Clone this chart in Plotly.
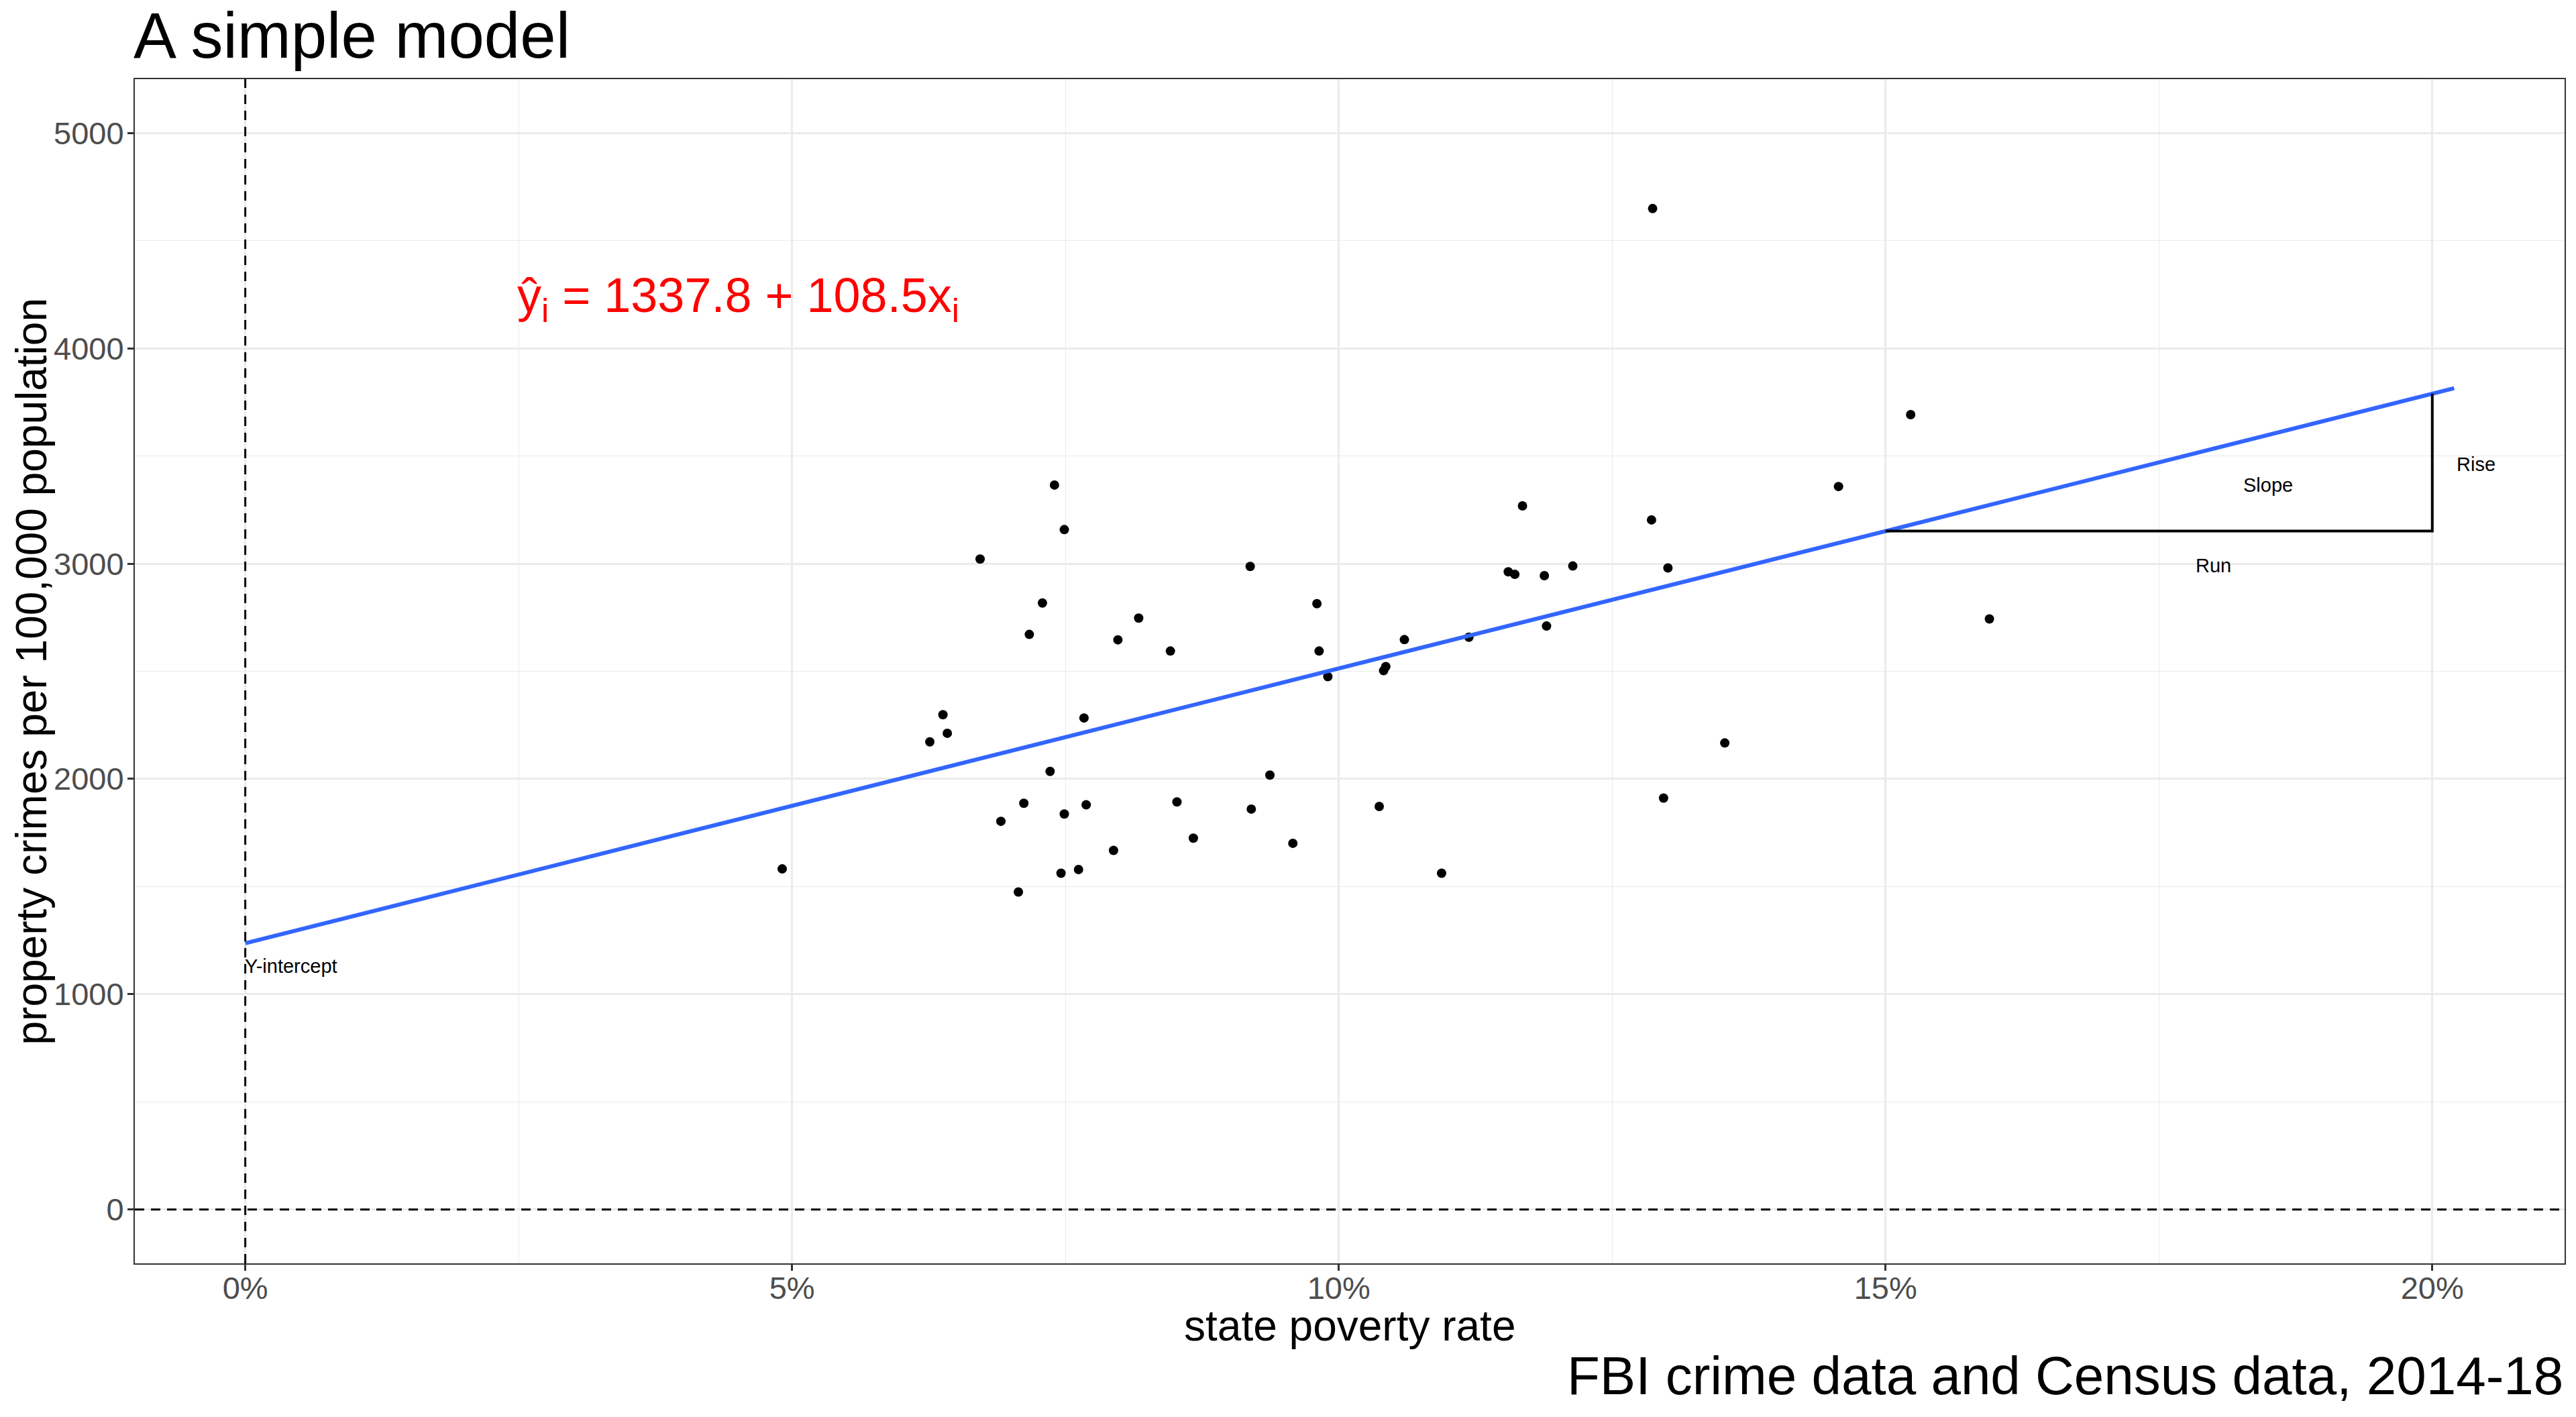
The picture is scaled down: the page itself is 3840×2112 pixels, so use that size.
import numpy as np
import plotly.graph_objects as go

# state poverty rate (%) and property crimes per 100,000
poverty = [7.40, 7.49, 6.72, 9.19, 7.29, 9.80, 8.17, 7.17, 7.98, 8.46,
           9.82, 10.60, 10.43, 10.41, 9.90, 6.38, 6.42, 6.26, 7.67, 7.36,
           9.37, 7.12, 7.69, 7.49, 6.91, 8.52, 9.20, 10.37, 8.67, 9.58,
           7.94, 4.91, 7.46, 7.62, 7.07, 14.57, 11.68, 12.86, 12.14, 11.55,
           11.61, 11.88, 13.01, 15.95, 11.19, 11.90, 13.53, 12.97, 10.94, 12.87,
           15.23]
crime = [3365, 3158, 3021, 2987, 2817, 2814, 2747, 2671, 2646, 2594,
         2594, 2647, 2522, 2503, 2475, 2298, 2212, 2172, 2283, 2035,
         2018, 1887, 1880, 1837, 1803, 1893, 1860, 1872, 1725, 1701,
         1668, 1582, 1562, 1579, 1475, 3358, 3268, 3203, 2989, 2962,
         2950, 2944, 2980, 2743, 2658, 2710, 2167, 1911, 1562, 4649,
         3692]

# fitted line as drawn in the chart
fit_intercept = 1237
fit_slope = 127.6
fit_x = [0, 20.2]
run_x = [15, 20]  # rise/run triangle

x_ticks = [0, 5, 10, 15, 20]
x_labels = [f"{v}%" for v in x_ticks]
y_ticks = [0, 1000, 2000, 3000, 4000, 5000]

title = "A simple model"
x_title = "state poverty rate"
y_title = "property crimes per 100,000 population"
caption = "FBI crime data and Census data, 2014-18"
equation = "ŷ<sub>i</sub> = 1337.8 + 108.5x<sub>i</sub>"

FONT = "Liberation Sans, Arial, sans-serif"


def fit(x):
    return fit_intercept + fit_slope * np.asarray(x, dtype=float)


fig = go.Figure()

dashed = dict(color="black", width=3, dash="14px,10px")
fig.add_hline(y=0, line=dashed)
fig.add_vline(x=0, line=dashed)

fig.add_trace(go.Scatter(
    x=poverty, y=crime, mode="markers",
    marker=dict(color="black", size=14, line=dict(width=0)),
    showlegend=False, hoverinfo="skip",
))

fig.add_trace(go.Scatter(
    x=fit_x, y=fit(fit_x), mode="lines",
    line=dict(color="#3366FF", width=6),
    showlegend=False, hoverinfo="skip",
))

tri_y = fit(run_x)
fig.add_trace(go.Scatter(
    x=[run_x[0], run_x[1], run_x[1]],
    y=[tri_y[0], tri_y[0], tri_y[1]],
    mode="lines", line=dict(color="black", width=4),
    showlegend=False, hoverinfo="skip",
))

small = dict(family=FONT, size=29, color="black")
fig.add_annotation(x=0, y=1130, text="Y-intercept", showarrow=False,
                   xanchor="left", yanchor="middle", xshift=-3, font=small)
fig.add_annotation(x=18.5, y=3365, text="Slope", showarrow=False, font=small)
fig.add_annotation(x=18.0, y=2990, text="Run", showarrow=False, font=small)
fig.add_annotation(x=20.4, y=3460, text="Rise", showarrow=False, font=small)

fig.add_annotation(x=2.5, y=4228, text=equation, showarrow=False,
                   xanchor="left", yanchor="middle", xshift=-4,
                   font=dict(family=FONT, size=72, color="red"))

# title, axis titles, caption
fig.add_annotation(xref="paper", yref="paper", x=0, y=1, xanchor="left", yanchor="bottom",
                   yshift=10, xshift=-4, text=title, showarrow=False,
                   font=dict(family=FONT, size=96, color="black"))
fig.add_annotation(xref="paper", yref="paper", x=0.5, y=0, xanchor="center", yanchor="top",
                   yshift=-55, text=x_title, showarrow=False,
                   font=dict(family=FONT, size=64, color="black"))
fig.add_annotation(xref="paper", yref="paper", x=0, y=0.5, xanchor="center", yanchor="middle",
                   xshift=-155, textangle=-90, text=y_title, showarrow=False,
                   font=dict(family=FONT, size=64, color="black"))
fig.add_annotation(xref="paper", yref="paper", x=1, y=0, xanchor="right", yanchor="bottom",
                   yshift=-214, text=caption, showarrow=False,
                   font=dict(family=FONT, size=80, color="black"))

axis_common = dict(
    showline=True, linecolor="#333333", linewidth=2, mirror=True,
    ticks="outside", ticklen=9, tickwidth=2.5, tickcolor="#333333",
    showgrid=True, gridcolor="#EBEBEB", gridwidth=2.5,
    zeroline=False,
    tickfont=dict(family=FONT, size=47, color="#4D4D4D"),
)

fig.update_xaxes(
    range=[-1.01, 21.21], tickmode="array", tickvals=x_ticks, ticktext=x_labels,
    minor=dict(dtick=2.5, tick0=0, showgrid=True, gridcolor="#EBEBEB", gridwidth=1.3, ticks=""),
    ticklabelstandoff=-14, **axis_common,
)
fig.update_yaxes(
    range=[-250, 5250], tickmode="array", tickvals=y_ticks,
    minor=dict(dtick=500, tick0=0, showgrid=True, gridcolor="#EBEBEB", gridwidth=1.3, ticks=""),
    ticklabelstandoff=-4, **axis_common,
)

# the page body keeps an 8px margin, so the figure is 8px smaller each way
fig.update_layout(
    width=3832, height=2104,
    margin=dict(l=193, r=17, t=110, b=229),
    plot_bgcolor="white", paper_bgcolor="white",
    font=dict(family=FONT),
)

fig.write_html("out.html")
